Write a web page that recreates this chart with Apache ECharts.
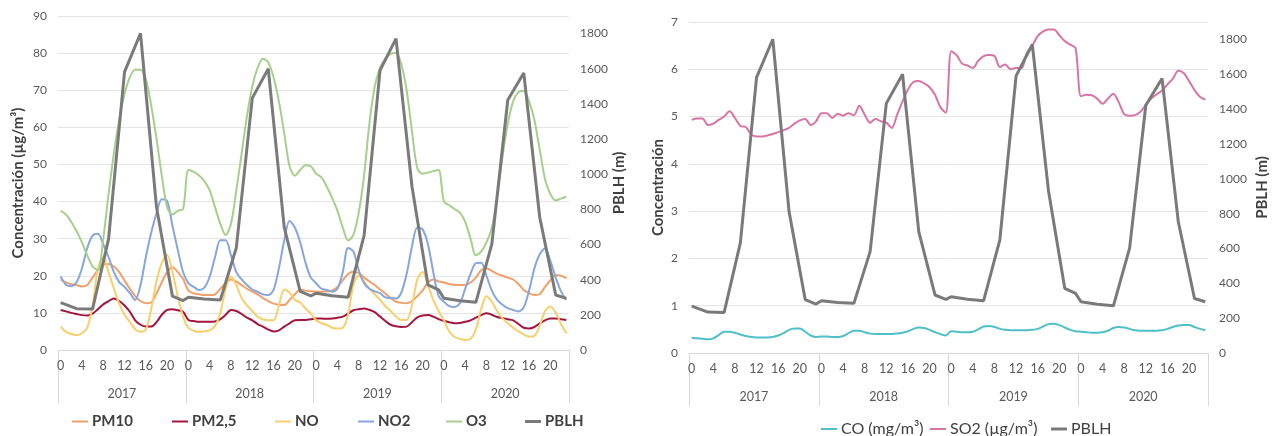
<!DOCTYPE html>
<html>
<head>
<meta charset="utf-8">
<script src="https://cdn.jsdelivr.net/npm/echarts@6/dist/echarts.min.js"></script>
<style>
  html, body { margin: 0; padding: 0; background: #ffffff; }
  #chart { width: 1282px; height: 436px; }
</style>
</head>
<body>
<div id="chart"></div>
<script>
// Hourly profiles (0-23 h) for each year, 2017-2020
const years = ['2017', '2018', '2019', '2020'];
const hourTicks = [0, 1, 2, 3, 4, 5, 6, 7, 8, 9, 10, 11, 12, 13, 14, 15, 16, 17, 18, 19, 20, 21, 22, 23];

// Concentrations, µg/m³
const pm10 = [
  19, 18.2, 17.7, 17.5, 17.1, 17.5, 19.5, 21.5, 23, 23.2, 22.5, 21, 18.7, 16.5, 14.5, 13.2, 12.6, 12.8, 15.2, 18.3, 21, 22.3, 21, 19.2,
  16, 15.3, 15, 14.8, 14.8, 15, 16.5, 18, 19, 18.5, 17.5, 16.5, 15.7, 15, 14, 13.2, 12.5, 12.2, 12.1, 13.5, 15, 16.3, 16, 15.8,
  15.7, 15.7, 15.8, 16, 17, 18.8, 20.5, 21.1, 20.7, 19.5, 18.5, 17.5, 16.3, 15.2, 14, 13, 12.7, 12.6, 13.2, 14.5, 16, 18.2, 19, 18.5,
  18.2, 17.8, 17.5, 17.5, 17.5, 18.2, 19.5, 21.5, 22, 21.3, 20.5, 20, 19.5, 19, 17.8, 16.2, 15.3, 14.8, 15.1, 17, 18.8, 20.2, 20, 19.3
];
const pm25 = [
  10.8, 10.4, 10, 9.7, 9.4, 9.3, 9.8, 11, 12.3, 13.2, 13.9, 13.2, 12, 10.3, 8, 6.8, 6.3, 6.3, 7.5, 9.5, 10.8, 11, 10.7, 10.3,
  8.1, 7.8, 7.6, 7.6, 7.6, 7.7, 8.3, 9.5, 10.8, 10.5, 9.7, 8.7, 8, 7, 6.3, 5.5, 5, 5.3, 6.3, 7.2, 8, 8.1, 8.1, 8.3,
  8.5, 8.5, 8.4, 8.5, 8.7, 9, 9.8, 10.7, 11, 11.2, 10.8, 10.2, 9, 7.8, 6.8, 6.4, 6.2, 6.3, 7.5, 8.8, 9.3, 9.4, 9, 8.3,
  7.8, 7.5, 7.2, 7.3, 7.6, 8, 8.7, 9.4, 9.9, 9.5, 8.9, 8.6, 8.3, 8, 7, 6, 5.8, 6.2, 7.2, 8, 8.5, 8.5, 8.3, 8.1
];
const no = [
  6.3, 4.9, 4.3, 4, 4.5, 6, 12, 22, 25, 21, 16.5, 12.5, 9.5, 7.6, 5.6, 4.9, 5.5, 11, 18.5, 23.5, 25.6, 21, 14.5, 9,
  6, 5.2, 4.9, 5, 5.3, 6.5, 10, 16.5, 19.8, 17.5, 14, 12, 10.5, 9, 8.2, 8, 8, 12, 16.3, 15.5, 13.5, 12.8, 11.2, 9.8,
  8, 7.2, 6.8, 6, 5.8, 6, 9.5, 17.5, 20, 18.5, 16.5, 15, 13.5, 11.8, 10.5, 9, 8.1, 8.1, 12, 19, 21, 17.5, 13.5, 10.5,
  8, 5, 3.5, 3, 2.7, 3, 5.5, 11, 14.5, 13, 10.5, 8.5, 7.2, 6, 5, 4.2, 3.6, 3.8, 6.5, 10.5, 11.7, 10, 7, 4.5
];
const no2 = [
  19.8, 17.6, 17.2, 18.3, 22, 27.5, 30.8, 31.3, 28.5, 25, 21, 18.3, 17, 15.3, 13.5, 17.5, 25, 31.5, 36.8, 40.6, 40.2, 33.5, 27, 21,
  18, 17, 16.2, 16.8, 19.8, 25, 29.6, 29.6, 25.5, 21, 19, 17.5, 16.3, 15.7, 15, 14.8, 16.2, 22, 29.5, 34.8, 33, 29, 23.5, 19.5,
  18, 16.5, 16.2, 15.7, 16.5, 21, 27.5, 26.5, 21.5, 18, 16.5, 15.8, 15.3, 14.2, 14, 13.9, 15.5, 20.5, 27.9, 33, 32.5, 28.5, 21, 14.5,
  13, 11.8, 11.6, 12.6, 16.5, 20.5, 23.4, 23.5, 20, 16, 13.5, 12.2, 11.3, 10.8, 10.4, 11.5, 16, 22, 25.8, 27.4, 24, 19.5, 15.8, 13.5
];
const o3 = [
  37.5, 36.5, 34.5, 32, 29, 25.5, 22.5, 21.5, 30, 42, 53, 62, 69, 73.5, 75.5, 75.5, 73, 66, 57, 47, 38.5, 36.5, 37.5, 38,
  48.5, 48, 47, 45.5, 43, 38.5, 34, 31, 34, 43, 53, 63, 71, 76, 78.5, 77.5, 73.5, 67, 58.5, 49.5, 47, 48.5, 49.8, 49.5,
  47.5, 46.5, 44, 41, 37.5, 33, 29.5, 31, 37, 47, 61, 71, 76, 78.5, 79.8, 80, 77, 70, 59, 49, 47.5, 47.8, 48.2, 48.5,
  40, 39, 38, 37, 34.5, 30, 25.5, 26.5, 29, 33, 41, 52, 61, 67, 69.5, 69.8, 67, 62, 54, 46, 42, 40.3, 40.8, 41.3
];

// CO in mg/m³, SO2 in µg/m³
const co = [
  0.32, 0.31, 0.30, 0.29, 0.31, 0.38, 0.45, 0.45, 0.43, 0.39, 0.36, 0.34, 0.33, 0.33, 0.33, 0.34, 0.37, 0.42, 0.49, 0.52, 0.52, 0.45, 0.37, 0.34,
  0.35, 0.35, 0.34, 0.34, 0.36, 0.42, 0.47, 0.47, 0.44, 0.41, 0.40, 0.40, 0.40, 0.40, 0.41, 0.43, 0.46, 0.51, 0.54, 0.53, 0.49, 0.44, 0.40, 0.37,
  0.46, 0.45, 0.44, 0.44, 0.45, 0.50, 0.56, 0.57, 0.55, 0.51, 0.49, 0.48, 0.48, 0.48, 0.48, 0.49, 0.51, 0.56, 0.61, 0.62, 0.59, 0.54, 0.49, 0.46,
  0.45, 0.44, 0.43, 0.43, 0.44, 0.47, 0.53, 0.55, 0.54, 0.51, 0.48, 0.47, 0.47, 0.47, 0.47, 0.48, 0.51, 0.55, 0.58, 0.59, 0.59, 0.55, 0.51, 0.48
];
const so2 = [
  4.93, 4.96, 4.96, 4.82, 4.85, 4.93, 5.0, 5.11, 4.97, 4.8, 4.78, 4.62, 4.58, 4.58, 4.6, 4.63, 4.67, 4.71, 4.76, 4.85, 4.92, 4.95, 4.82, 4.9,
  5.07, 5.07, 4.97, 5.06, 5.02, 5.07, 5.03, 5.23, 5.04, 4.87, 4.95, 4.9, 4.87, 4.76, 5.04, 5.32, 5.57, 5.73, 5.75, 5.7, 5.62, 5.46, 5.2, 5.08,
  6.38, 6.3, 6.12, 6.08, 6.03, 6.18, 6.28, 6.3, 6.28, 6.05, 6.1, 6.0, 6.03, 6.02, 6.35, 6.5, 6.7, 6.8, 6.84, 6.84, 6.72, 6.6, 6.52, 6.45,
  5.43, 5.46, 5.45, 5.38, 5.27, 5.38, 5.48, 5.3, 5.05, 5.02, 5.03, 5.1, 5.25, 5.38, 5.47, 5.55, 5.68, 5.8, 5.97, 5.92, 5.75, 5.56, 5.42, 5.36
];

// Planetary boundary layer height, m (3-hourly values plus 23 h)
const pblh = [
  269, null, null, 235, null, null, 233, null, null, 632, null, null, 1582, null, null, 1801, null, null, 813, null, null, 306, null, 281,
  300, null, null, 290, null, null, 285, null, null, 582, null, null, 1433, null, null, 1600, null, null, 697, null, null, 333, null, 308,
  323, null, null, 309, null, null, 300, null, null, 650, null, null, 1591, null, null, 1771, null, null, 930, null, null, 371, null, 342,
  294, null, null, 280, null, null, 271, null, null, 602, null, null, 1422, null, null, 1576, null, null, 755, null, null, 313, null, 294
];

const categories = years.flatMap(y => hourTicks.map(h => y + '|' + h));

const FONT = 'Lato, "Open Sans", sans-serif';
const TICK_COLOR = '#595959';
const TITLE_COLOR = '#404040';
const GRID_LINE = '#e4e4e4';
const AXIS_LINE = '#d9d9d9';

function hourAxis(gridIndex) {
  return {
    type: 'category', gridIndex, data: categories, boundaryGap: true, position: 'bottom',
    axisLine: { show: true, lineStyle: { color: AXIS_LINE, width: 1 } },
    axisTick: { show: false },
    axisLabel: {
      interval: 3, margin: 9, color: TICK_COLOR, fontFamily: FONT, fontSize: 12.5,
      formatter: v => v.split('|')[1]
    },
    splitLine: { show: false }
  };
}
function yearAxis(gridIndex) {
  return {
    type: 'category', gridIndex, data: years, boundaryGap: true, position: 'bottom',
    axisLine: { show: false },
    axisTick: { show: true, interval: 0, length: 53, lineStyle: { color: AXIS_LINE, width: 1 } },
    axisLabel: { interval: 0, margin: 37, color: TICK_COLOR, fontFamily: FONT, fontSize: 12.5 },
    splitLine: { show: false }
  };
}
function valueAxis(gridIndex, position, max, interval, name, nameGap, grid) {
  return {
    type: 'value', gridIndex, position, min: 0, max, interval,
    name, nameLocation: 'middle', nameGap, nameRotate: 90,
    nameTextStyle: { color: TITLE_COLOR, fontFamily: FONT, fontWeight: 'bold', fontSize: 15 },
    axisLine: { show: false }, axisTick: { show: false },
    axisLabel: {
      margin: 11, color: TICK_COLOR, fontFamily: FONT, fontSize: 12,
      showMaxLabel: position === 'left',
      formatter: v => String(v)
    },
    splitLine: { show: grid, lineStyle: { color: GRID_LINE, width: 1 } }
  };
}
function lineSeries(name, data, color, xAxisIndex, yAxisIndex, width, smooth) {
  return {
    name, type: 'line', data, xAxisIndex, yAxisIndex,
    symbol: 'none', smooth, connectNulls: true,
    lineStyle: { color, width }, itemStyle: { color },
    emphasis: { disabled: true }
  };
}
function legendItem(name, left, top, color, bold, size, thick) {
  return {
    data: [name], left, top, orient: 'horizontal', icon: 'rect',
    itemWidth: 16, itemHeight: thick, itemGap: 0, selectedMode: false,
    itemStyle: { color },
    textStyle: { color: TITLE_COLOR, fontFamily: FONT, fontWeight: bold ? 'bold' : 'normal', fontSize: size, padding: [0, 0, 0, -1] }
  };
}

const C = {
  pm10: '#f0a06a', pm25: '#a3163f', no: '#f8cf6c', no2: '#86a6dc', o3: '#a6cf8c',
  pblh: '#7a7a7a', co: '#4fc0c8', so2: '#d975a5'
};

const option = {
  backgroundColor: '#ffffff',
  animation: false,
  grid: [
    { left: 58, top: 16, width: 511, height: 334, outerBoundsMode: 'none' },
    { left: 689, top: 22, width: 519, height: 331, outerBoundsMode: 'none' }
  ],
  xAxis: [hourAxis(0), yearAxis(0), hourAxis(1), yearAxis(1)],
  yAxis: [
    valueAxis(0, 'left', 90, 10, 'Concentración (µg/m³)', 32, true),
    valueAxis(0, 'right', 1900, 200, 'PBLH (m)', 42, false),
    valueAxis(1, 'left', 7, 1, 'Concentración', 23, true),
    valueAxis(1, 'right', 1900, 200, 'PBLH (m)', 47, false)
  ],
  legend: [
    legendItem('PM10', 67, 409, C.pm10, true, 15, 2),
    legendItem('PM2,5', 167, 409, C.pm25, true, 15, 2),
    legendItem('NO', 270, 409, C.no, true, 15, 2),
    legendItem('NO2', 353, 409, C.no2, true, 15, 2),
    legendItem('O3', 441, 409, C.o3, true, 15, 2),
    legendItem('PBLH', 520, 409, C.pblh, true, 15, 3),
    legendItem('CO (mg/m³)', 816, 416, C.co, false, 16, 2),
    legendItem('SO2 (µg/m³)', 925, 416, C.so2, false, 16, 2),
    legendItem('PBLH', 1046, 416, C.pblh, false, 16, 3)
  ],
  series: [
    lineSeries('PM10', pm10, C.pm10, 0, 0, 2, 0.3),
    lineSeries('PM2,5', pm25, C.pm25, 0, 0, 2, 0.3),
    lineSeries('NO', no, C.no, 0, 0, 2, 0.3),
    lineSeries('NO2', no2, C.no2, 0, 0, 2, 0.3),
    lineSeries('O3', o3, C.o3, 0, 0, 2, 0.3),
    lineSeries('PBLH', pblh, C.pblh, 0, 1, 3, false),
    lineSeries('CO (mg/m³)', co, C.co, 2, 2, 2, 0.3),
    lineSeries('SO2 (µg/m³)', so2, C.so2, 2, 2, 2, 0.3),
    lineSeries('PBLH', pblh, C.pblh, 2, 3, 3, false)
  ]
};

const chart = echarts.init(document.getElementById('chart'), null, { renderer: 'canvas' });
chart.setOption(option);
</script>
</body>
</html>
